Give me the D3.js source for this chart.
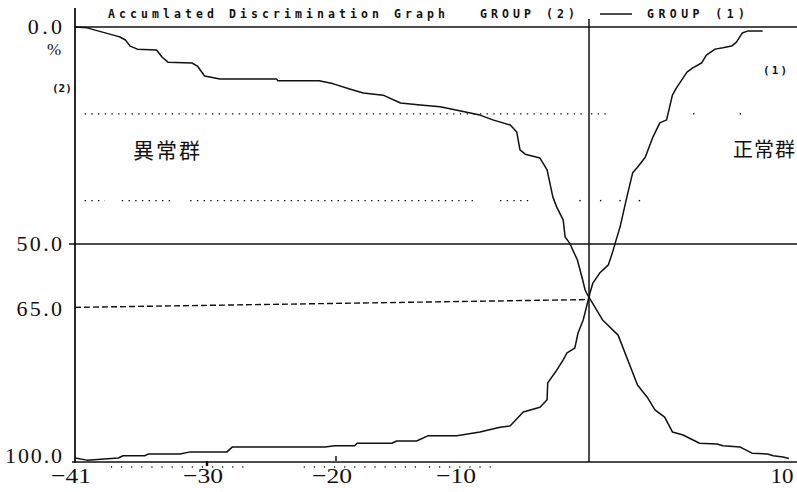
<!DOCTYPE html>
<html>
<head>
<meta charset="utf-8">
<script src="https://cdn.jsdelivr.net/npm/d3@7"></script>
<style>
body { margin: 0; background: #fff; }
</style>
</head>
<body>
<div id="chart"></div>
<script>
// axis breaks (score) and tick labels
var xBreaks = [-41, -30, -20, -10, 0, 10];
var xTickValues = [-41, -30, -20, -10, 10];
var xTickLabels = ["\u221241", "\u221230", "\u221220", "\u221210", "10"];
var yTickValues = [0, 50, 65, 100];
var yTickLabels = ["0.0", "50.0", "65.0", "100.0"];

// GROUP (2): accumulated % [score, %]
var group2 = [
    [-41, 0], [-40, 0.2], [-37.5, 2.1], [-37.25, 2.3], [-36.8, 3.0], [-36.4, 4.4],
    [-35.8, 5.1], [-34.2, 5.3], [-33.75, 6.9], [-33.25, 8.1], [-31.25, 8.3], [-30.8, 9.0],
    [-30.2, 11.3], [-29.0, 12.0], [-24.6, 12.0], [-24.5, 12.4], [-21.3, 12.4], [-20.2, 13.1],
    [-18.9, 14.3], [-17.8, 15.2], [-16.2, 15.7], [-14.8, 17.5], [-13.2, 18.0], [-11.6, 18.4],
    [-8.45, 20.3], [-7.45, 21.4], [-6.1, 22.6], [-5.6, 24.2], [-5.35, 28.3], [-4.95, 29.3],
    [-3.8, 30.2], [-3.25, 32.9], [-2.8, 39.2], [-2.5, 41.5], [-2.0, 44.5], [-1.85, 48.4],
    [-1.5, 49.8], [-0.9, 53.7], [-0.55, 57.6], [-0.3, 60.6], [-0.1, 61.8], [0.7, 67.5],
    [1.5, 71.0], [2.5, 82.5], [3.0, 85.3], [3.4, 88.2], [3.9, 89.9], [4.3, 93.3],
    [4.85, 94.0], [5.7, 95.9], [6.6, 96.1], [6.9, 96.5], [7.8, 96.8], [8.4, 98.2],
    [9.2, 98.4], [9.5, 98.8], [10.0, 99.1], [10.3, 99.4]
];

// GROUP (1)
var group1 = [
    [-41, 99.3], [-40, 99.8], [-37.4, 99.3], [-37, 98.8], [-35.2, 98.8], [-34.9, 98.4],
    [-32.25, 98.4], [-31.4, 97.9], [-28.45, 97.9], [-28.05, 96.8], [-20.85, 96.8], [-20.1, 96.5],
    [-18.5, 96.5], [-18.3, 95.9], [-15.5, 95.9], [-15.1, 95.4], [-13.5, 95.4], [-12.6, 94.2],
    [-10.25, 94.2], [-8.45, 93.3], [-6.9, 92.2], [-6.1, 91.9], [-5.1, 88.7], [-3.8, 87.6],
    [-3.25, 85.9], [-3.2, 82.0], [-2.6, 79.5], [-2.0, 76.7], [-1.7, 75.1], [-1.1, 74.0],
    [-0.85, 70.5], [-0.45, 67.5], [0.05, 61.3], [0.2, 59.0], [0.55, 56.7], [1.0, 54.8],
    [1.2, 52.1], [1.35, 49.8], [1.6, 46.1], [1.95, 39.2], [2.25, 33.6], [2.5, 32.3],
    [2.9, 30.0], [3.3, 25.3], [3.65, 22.1], [4.0, 21.4], [4.3, 15.7], [4.5, 14.1],
    [5.05, 10.4], [5.35, 9.4], [5.8, 8.3], [6.05, 6.5], [6.5, 5.1], [6.9, 4.8],
    [7.35, 4.4], [7.6, 3.5], [7.9, 1.4], [8.2, 0.9], [8.95, 0.9]
];

var cutScore = 0;
var cutLine = [[-41, 64.6], [0, 62.8]];

// dotted guide lines at 20% and 40%
var dot20Spans = [[-40.2, -0.5], [0.1, 0.9]];
var dot20Single = [5.4, 7.8];
var dot40Spans = [[-40.2, -38.5], [-37.1, -32.9], [-31.4, -9.0], [-6.9, -4.3]];
var dot40Single = [-0.7, 0.6, 1.6, 2.6];
// faint dots just under the score axis
var underAxisSpans = [[-38, -26.5], [-22.5, -13], [-12.5, -7.5]];

var width = 797;
var height = 492;
var ink = "#111";

var svg = d3.select("#chart").append("svg")
    .attr("width", width)
    .attr("height", height)
    .style("background", "#fff");

var x = d3.scaleLinear()
    .domain(xBreaks)
    .range([75, 207, 336, 460, 589, 783]);

var y = d3.scaleLinear()
    .domain([0, 100])
    .range([27, 461]);

// frame lines
svg.append("line")  // left axis
    .attr("x1", x(-41)).attr("x2", x(-41))
    .attr("y1", 8).attr("y2", y(100) + 2)
    .attr("stroke", ink).attr("stroke-width", 1.8);

svg.append("line")  // bottom axis
    .attr("x1", x(-41) - 3).attr("x2", width)
    .attr("y1", y(100) + 1).attr("y2", y(100) + 1)
    .attr("stroke", ink).attr("stroke-width", 1.6);

svg.append("line")  // 0% line
    .attr("x1", x(-41)).attr("x2", width)
    .attr("y1", y(0)).attr("y2", y(0))
    .attr("stroke", ink).attr("stroke-width", 1.4);

svg.append("line")  // 50% line
    .attr("x1", x(-41) - 6).attr("x2", width)
    .attr("y1", y(50)).attr("y2", y(50))
    .attr("stroke", ink).attr("stroke-width", 1.5);

svg.append("line")  // cut point
    .attr("x1", x(cutScore)).attr("x2", x(cutScore))
    .attr("y1", 19).attr("y2", y(100) + 1)
    .attr("stroke", ink).attr("stroke-width", 1.5);

// dotted lines
function dotted(spans, singles, py, dash) {
    svg.selectAll(null)
        .data(spans)
        .enter()
        .append("line")
        .attr("x1", d => x(d[0])).attr("x2", d => x(d[1]))
        .attr("y1", py).attr("y2", py)
        .attr("stroke", ink)
        .attr("stroke-width", 1.3)
        .attr("stroke-dasharray", dash);
    svg.selectAll(null)
        .data(singles)
        .enter()
        .append("rect")
        .attr("x", d => x(d) - 0.7)
        .attr("y", py - 0.7)
        .attr("width", 1.4).attr("height", 1.4)
        .attr("fill", ink);
}
dotted(dot20Spans, dot20Single, y(20), "1.4,5.3");
dotted(dot40Spans, dot40Single, y(40), "1.4,5.3");
dotted(underAxisSpans, [], y(100) + 6, "1.1,9");

// dashed cut line
svg.append("path")
    .attr("d", d3.line().x(d => x(d[0])).y(d => y(d[1]))(cutLine))
    .attr("fill", "none")
    .attr("stroke", ink)
    .attr("stroke-width", 1.4)
    .attr("stroke-dasharray", "6,3");

// curves
var line = d3.line()
    .x(d => x(d[0]))
    .y(d => y(d[1]));

[group2, group1].forEach(function (g) {
    svg.append("path")
        .attr("d", line(g))
        .attr("fill", "none")
        .attr("stroke", ink)
        .attr("stroke-width", 1.5)
        .attr("stroke-linejoin", "round");
});

// y labels
svg.selectAll(".ylab")
    .data(yTickValues)
    .enter()
    .append("text")
    .attr("class", "ylab")
    .attr("x", 62)
    .attr("y", d => d === 100 ? y(d) + 2 : y(d) + 7)
    .attr("text-anchor", "end")
    .attr("textLength", (d, i) => yTickLabels[i].length * 11.4)
    .attr("lengthAdjust", "spacing")
    .attr("font-family", "Liberation Serif, serif")
    .attr("font-size", 22)
    .attr("fill", ink)
    .text((d, i) => yTickLabels[i]);

svg.append("text")
    .attr("x", 54).attr("y", 55)
    .attr("text-anchor", "middle")
    .attr("font-family", "Liberation Serif, serif")
    .attr("font-size", 17)
    .attr("fill", ink)
    .text("%");

// x labels
svg.selectAll(".xlab")
    .data(xTickValues)
    .enter()
    .append("text")
    .attr("class", "xlab")
    .attr("x", d => d < 0 ? x(d) - 4 : x(d) - 1)
    .attr("y", 483)
    .attr("text-anchor", "middle")
    .attr("textLength", (d, i) => d < 0 ? 40 : 23)
    .attr("lengthAdjust", "spacingAndGlyphs")
    .attr("font-family", "Liberation Serif, serif")
    .attr("font-size", 22)
    .attr("fill", ink)
    .text((d, i) => xTickLabels[i]);

// small tick marks on bottom axis
svg.append("line")
    .attr("x1", x(-30)).attr("x2", x(-30))
    .attr("y1", y(100)).attr("y2", y(100) + 5)
    .attr("stroke", ink).attr("stroke-width", 2.5);
svg.append("line")
    .attr("x1", x(-20)).attr("x2", x(-20))
    .attr("y1", y(100) - 5).attr("y2", y(100))
    .attr("stroke", ink).attr("stroke-width", 1.5);

// title and legend
var mono = "DejaVu Sans Mono, monospace";
function titleText(str, tx, len) {
    svg.append("text")
        .attr("x", tx).attr("y", 18)
        .attr("textLength", len).attr("lengthAdjust", "spacing")
        .attr("font-family", mono).attr("font-size", 11.5)
        .attr("font-weight", "bold")
        .attr("fill", ink)
        .text(str);
}
titleText("Accumlated Discrimination Graph", 108, 337);
titleText("GROUP (2)", 480, 95);
titleText("GROUP (1)", 647, 98);
svg.append("line")
    .attr("x1", 600).attr("x2", 632)
    .attr("y1", 14).attr("y2", 14)
    .attr("stroke", ink).attr("stroke-width", 1.5);

// group markers
svg.append("text")
    .attr("x", 52).attr("y", 92)
    .attr("font-family", mono).attr("font-size", 11).attr("font-weight", "bold")
    .attr("fill", ink)
    .text("(2)");
svg.append("text")
    .attr("x", 763).attr("y", 74)
    .attr("textLength", 24).attr("lengthAdjust", "spacing")
    .attr("font-family", mono).attr("font-size", 11).attr("font-weight", "bold")
    .attr("fill", ink)
    .text("(1)");

// group names
var cjk = "Noto Sans CJK JP, sans-serif";
svg.append("text")
    .attr("x", 133).attr("y", 158)
    .attr("font-family", cjk).attr("font-size", 21)
    .attr("letter-spacing", 2)
    .attr("fill", ink)
    .text("異常群");
svg.append("text")
    .attr("x", 733).attr("y", 157)
    .attr("font-family", cjk).attr("font-size", 20)
    .attr("letter-spacing", 1)
    .attr("fill", ink)
    .text("正常群");
</script>
</body>
</html>
